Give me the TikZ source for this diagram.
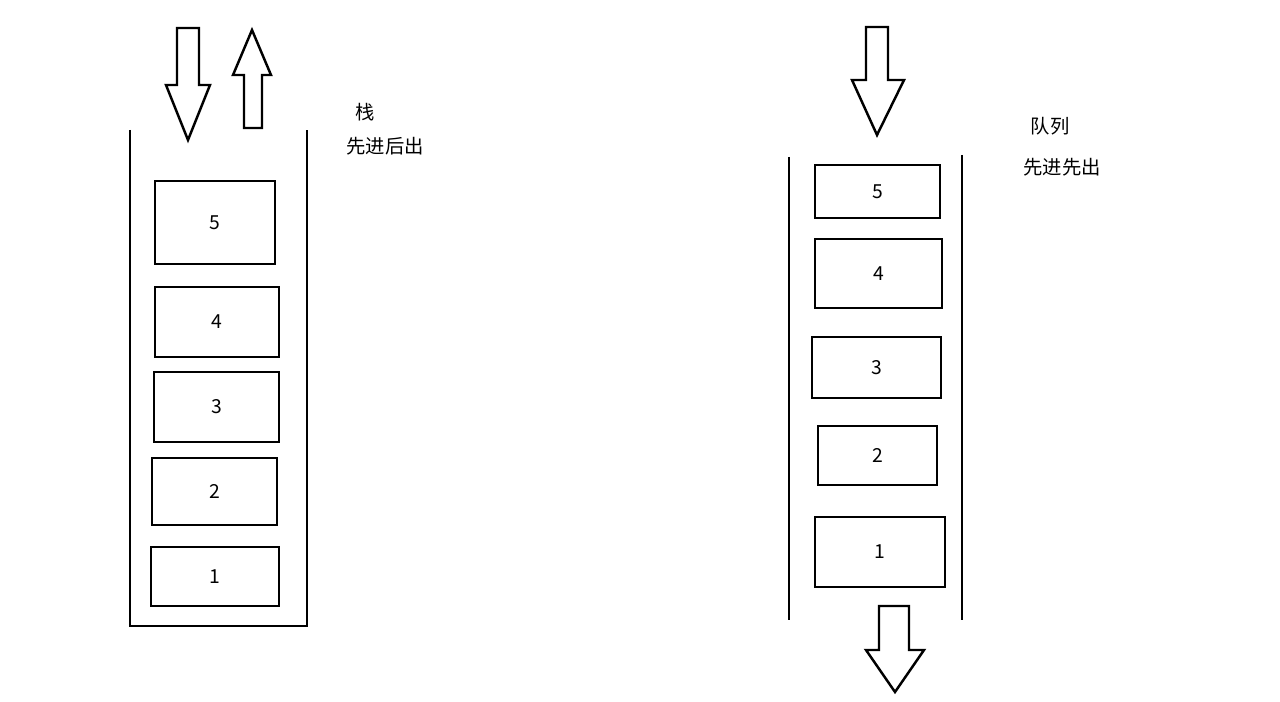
\documentclass[tikz,border=0pt]{standalone}
\usepackage{fontspec}
\setmainfont{Noto Sans CJK SC}
\tikzset{
	cell/.style = {draw, line width = 1.4pt, inner sep = 0pt},
	wall/.style = {line width = 1.4pt},
	label/.style = {font = \fontsize{11pt}{13pt}\selectfont}
}
\begin{document}
\begin{tikzpicture}[x = 0.02cm, y = -0.02cm]
	\useasboundingbox (0, 0) rectangle (1280, 702);

	% stack
	\draw [wall] (130, 130) -- (130, 626) -- (307, 626) -- (307, 130);
	\node [cell, minimum width = 2.4cm, minimum height = 1.66cm, label] (s5) at (215, 222.5) {5};
	\node [cell, minimum width = 2.48cm, minimum height = 1.4cm, label] (s4) at (217, 322) {4};
	\node [cell, minimum width = 2.5cm, minimum height = 1.4cm, label] (s3) at (216.5, 407) {3};
	\node [cell, minimum width = 2.5cm, minimum height = 1.34cm, label] (s2) at (214.5, 491.5) {2};
	\node [cell, minimum width = 2.56cm, minimum height = 1.18cm, label] (s1) at (215, 576.5) {1};
	\draw [wall] (177, 28) -- (199, 28) -- (199, 85) -- (210, 85) -- (188, 140) -- (166, 85) -- (177, 85) -- cycle;
	\draw [wall] (244, 128) -- (262, 128) -- (262, 75) -- (271, 75) -- (252, 30) -- (233, 75) -- (244, 75) -- cycle;
	\node [label] (stackname) at (365, 112) {栈};
	\node [label] (stackrule) at (385, 146) {先进后出};

	% queue
	\draw [wall] (789, 157) -- (789, 620);
	\draw [wall] (962, 155) -- (962, 620);
	\node [cell, minimum width = 2.5cm, minimum height = 1.06cm, label] (q5) at (877.5, 191.5) {5};
	\node [cell, minimum width = 2.54cm, minimum height = 1.38cm, label] (q4) at (878.5, 273.5) {4};
	\node [cell, minimum width = 2.58cm, minimum height = 1.22cm, label] (q3) at (876.5, 367.5) {3};
	\node [cell, minimum width = 2.38cm, minimum height = 1.18cm, label] (q2) at (877.5, 455.5) {2};
	\node [cell, minimum width = 2.6cm, minimum height = 1.4cm, label] (q1) at (880, 552) {1};
	\draw [wall] (866, 27) -- (888, 27) -- (888, 80) -- (904, 80) -- (877, 135) -- (852, 80) -- (866, 80) -- cycle;
	\draw [wall] (879, 606) -- (909, 606) -- (909, 650) -- (924, 650) -- (895, 692) -- (866, 650) -- (879, 650) -- cycle;
	\node [label] (queuename) at (1050, 126) {队列};
	\node [label] (queuerule) at (1062, 167) {先进先出};
\end{tikzpicture}
\end{document}
